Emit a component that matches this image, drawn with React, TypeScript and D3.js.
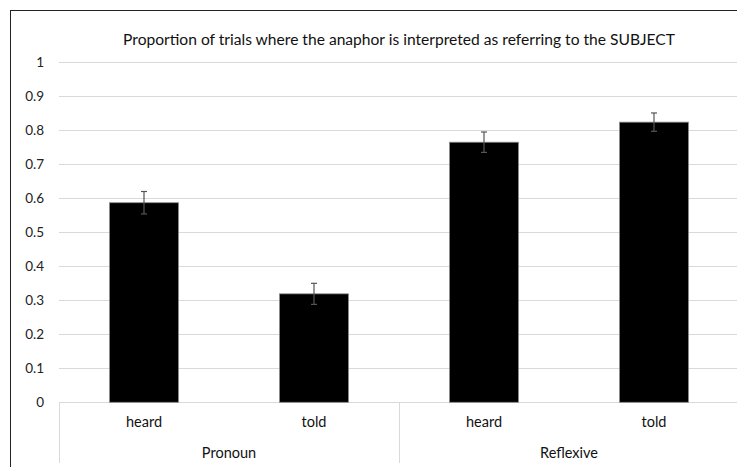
import React from "react";
import * as d3 from "d3";

const categories = ["heard", "told", "heard", "told"];
const groups = ["Pronoun", "Reflexive"];
const values = [0.587, 0.319, 0.765, 0.824];
const errors = [0.033, 0.031, 0.03, 0.027];
const yTicks = [0, 0.1, 0.2, 0.3, 0.4, 0.5, 0.6, 0.7, 0.8, 0.9, 1];
const title = "Proportion of trials where the anaphor is interpreted as referring to the SUBJECT";

const W = 737;
const H = 467;
const FONT = "Lato, 'Open Sans', sans-serif";

export default function App() {
  const x = d3.scaleBand<number>().domain(d3.range(categories.length)).range([59, 739]).paddingInner(0).paddingOuter(0);
  const y = d3.scaleLinear().domain([0, 1]).range([402.3, 62.3]);
  const bw = x.bandwidth() * 0.406;
  const groupX = d3.scaleBand<number>().domain(d3.range(groups.length)).range([59, 739]);

  return (
    <svg width={W} height={H} style={{ position: "absolute", left: 0, top: 0, background: "#fff" }}>
      <rect x={0} y={0} width={W} height={H} fill="#fff" />
      <rect x={10.5} y={10.5} width={W + 20} height={H + 20} fill="none" stroke="#222" strokeWidth={1} />
      <text x={399} y={45} textAnchor="middle" fontFamily={FONT} fontSize={15.6} fill="#111">
        {title}
      </text>
      {yTicks.map((t) => (
        <g key={t}>
          <line x1={59} x2={739} y1={Math.round(y(t)) + 0.5} y2={Math.round(y(t)) + 0.5} stroke="#d9d9d9" strokeWidth={1} />
          <text x={44} y={y(t) + 5} textAnchor="end" fontFamily={FONT} fontSize={13.5} fill="#222">
            {String(t)}
          </text>
        </g>
      ))}
      {values.map((v, i) => {
        const cx = (x(i) as number) + x.bandwidth() / 2;
        return (
          <g key={i}>
            <rect x={cx - bw / 2} y={y(v)} width={bw} height={y(0) - y(v)} fill="#000" stroke="#8c8c8c" strokeWidth={0.8} />
            <line x1={cx} x2={cx} y1={y(v + errors[i])} y2={y(v - errors[i])} stroke="#555" strokeWidth={1.2} />
            <line x1={cx - 3} x2={cx + 3} y1={y(v + errors[i])} y2={y(v + errors[i])} stroke="#555" strokeWidth={1.2} />
            <line x1={cx - 3} x2={cx + 3} y1={y(v - errors[i])} y2={y(v - errors[i])} stroke="#555" strokeWidth={1.2} />
            <text x={cx} y={427} textAnchor="middle" fontFamily={FONT} fontSize={14.5} fill="#111">
              {categories[i]}
            </text>
          </g>
        );
      })}
      {[0, 1, 2].map((k) => {
        const xx = k < 2 ? (groupX(k) as number) : 739;
        return <line key={k} x1={Math.round(xx) + 0.5} x2={Math.round(xx) + 0.5} y1={402} y2={463} stroke="#d9d9d9" strokeWidth={1} />;
      })}
      {groups.map((g, k) => (
        <text key={g} x={(groupX(k) as number) + groupX.bandwidth() / 2} y={458} textAnchor="middle" fontFamily={FONT} fontSize={14.5} fill="#111">
          {g}
        </text>
      ))}
    </svg>
  );
}
